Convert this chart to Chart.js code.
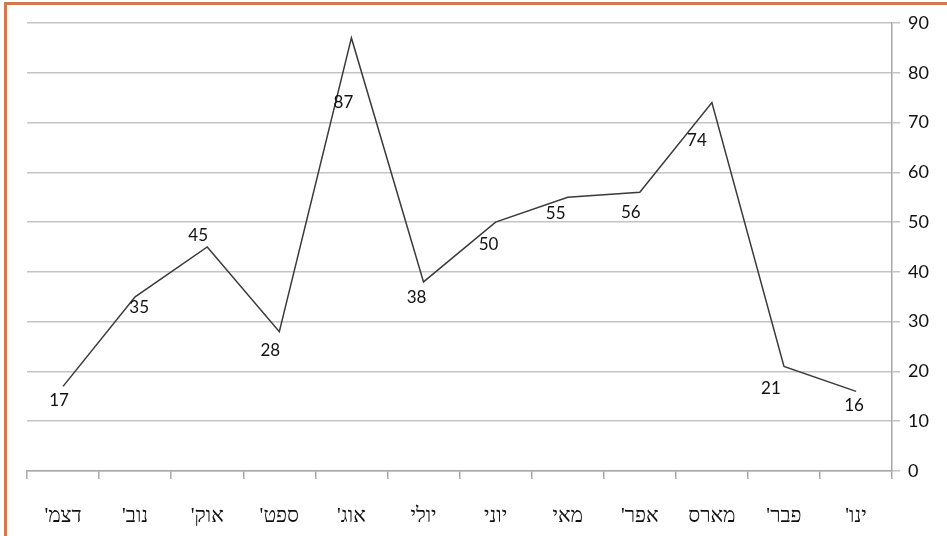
<!DOCTYPE html>
<html>
<head>
<meta charset="utf-8">
<script src="https://cdn.jsdelivr.net/npm/chart.js@4.4.1/dist/chart.umd.min.js"></script>
<style>
  html, body { margin: 0; padding: 0; background: #fff; overflow: hidden; }
  #wrap { position: relative; width: 947px; height: 536px; }
  #frame {
    position: absolute; left: 4px; top: 2px; width: 960px; height: 531px;
    border: 3px solid #d4784e; pointer-events: none;
  }
  canvas { position: absolute; left: 0; top: 0; }
</style>
</head>
<body>
<div id="wrap">
  <canvas id="chart" width="947" height="536" dir="rtl"></canvas>
  <div id="frame"></div>
</div>
<script>
// months, January first (axis is drawn right-to-left)
const months = ["ינו'", "פבר'", "מארס", "אפר'", "מאי", "יוני", "יולי", "אוג'", "ספט'", "אוק'", "נוב'", "דצמ'"];
const values = [16, 21, 74, 56, 55, 50, 38, 87, 28, 45, 35, 17];
const yTicks = [0, 10, 20, 30, 40, 50, 60, 70, 80, 90];

//where each value label sits relative to its point (dx, dy)
const labelShift = [[-2, 14], [-13, 22], [-15, 38], [-9, 20], [-12, 16], [-7, 22],
  [-7, 16], [-8, 65], [-9, 19], [-9, -11], [4, 11], [-4, 14]];

//Plugin for writing the values next to the line
const valueLabels = {
  id: "valueLabels",
  afterDatasetsDraw(chart) {
    const ctx = chart.ctx;
    const meta = chart.getDatasetMeta(0);
    ctx.save();
    ctx.font = "17px Lato";
    ctx.fillStyle = "#111";
    ctx.textAlign = "center";
    ctx.textBaseline = "middle";
    meta.data.forEach((pt, i) => {
      ctx.fillText(String(values[i]), pt.x + labelShift[i][0], pt.y + labelShift[i][1]);
    });
    ctx.restore();
  },
};

new Chart(document.getElementById("chart"), {
  type: "line",
  plugins: [valueLabels],
  data: {
    labels: months,
    datasets: [
      {
        data: values,
        borderColor: "#3a3a3a",
        borderWidth: 1.5,
        pointRadius: 0,
        tension: 0,
      },
    ],
  },
  options: {
    responsive: false,
    animation: false,
    layout: { padding: { left: 27, top: 23, right: 10, bottom: 0 } },
    plugins: { legend: { display: false }, tooltip: { enabled: false } },
    scales: {
      x: {
        reverse: true,
        offset: true,
        afterFit: (scale) => {
          scale.height = 65;
        },
        grid: {
          offset: true,
          drawOnChartArea: false,
          tickLength: 8,
          color: "#a8a8a8",
          lineWidth: 1.5,
        },
        border: { color: "#a8a8a8", width: 1.5 },
        ticks: {
          color: "#111",
          font: { family: "Liberation Serif", size: 21 },
          padding: 25,
          maxRotation: 0,
          autoSkip: false,
        },
      },
      y: {
        position: "right",
        min: 0,
        max: 90,
        afterBuildTicks: (scale) => {
          scale.ticks = yTicks.map((v) => ({ value: v }));
        },
        grid: { color: "#c4c4c4", lineWidth: 1.5, tickLength: 8 },
        border: { color: "#a8a8a8", width: 1.5 },
        ticks: {
          color: "#111",
          font: { family: "Lato", size: 18 },
          padding: 8,
        },
      },
    },
  },
});
</script>
</body>
</html>
